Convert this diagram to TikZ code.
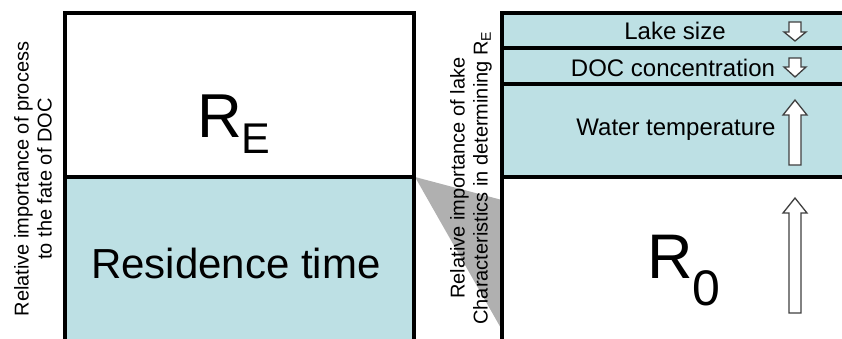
\documentclass[tikz,border=0pt]{standalone}
\usepackage{fontspec}
\setmainfont{Liberation Sans}
\definecolor{lakeblue}{RGB}{189,224,228}
\definecolor{wedgegrey}{RGB}{176,176,176}
\definecolor{arrowline}{RGB}{64,64,64}
\tikzset{
  boxline/.style={line width=3.5pt, black},
  hollowarrow/.style={fill=white, draw=arrowline, line width=1.3pt, line join=miter},
  rowtext/.style={font=\fontsize{24}{26}\selectfont, anchor=base, inner sep=0pt},
  sidetext/.style={rotate=90, align=center, font=\fontsize{20}{23}\selectfont, inner sep=0pt}
}
\begin{document}
\begin{tikzpicture}[x=1pt,y=-1pt]
\useasboundingbox (0,0) rectangle (842,338);
\clip (0,0) rectangle (842,338);
% wedge
\fill[wedgegrey] (415,177) -- (502,200) -- (502,330) -- cycle;
% left box
\fill[white] (65,13) rectangle (414,177);
\fill[lakeblue] (65,177) rectangle (414,360);
\draw[boxline] (65,360) -- (65,13) -- (414,13) -- (414,360);
\draw[boxline] (65,177) -- (414,177);
% right box
\fill[lakeblue] (502,13) rectangle (870,177);
\fill[white] (502,177) rectangle (870,360);
\draw[boxline] (502,360) -- (502,13) -- (870,13);
\draw[boxline] (502,48) -- (870,48);
\draw[boxline] (502,84) -- (870,84);
\draw[boxline] (502,177) -- (870,177);
% arrows
\draw[hollowarrow] (789,22) -- (801,22) -- (801,32) -- (806,32) -- (795,41) -- (784,32) -- (789,32) -- cycle;
\draw[hollowarrow] (789,58) -- (801,58) -- (801,67) -- (806,67) -- (795,77) -- (784,67) -- (789,67) -- cycle;
\draw[hollowarrow] (789,165) -- (801,165) -- (801,115) -- (807,115) -- (795,100) -- (783,115) -- (789,115) -- cycle;
\draw[hollowarrow] (789,313) -- (801,313) -- (801,213) -- (807,213) -- (795,198) -- (783,213) -- (789,213) -- cycle;
% texts
\node[anchor=base west, inner sep=0pt, font=\fontsize{62}{62}\selectfont] (re) at (197,137) {R\raisebox{-16pt}{\fontsize{43}{43}\selectfont E}};
\node[anchor=base, inner sep=0pt, font=\fontsize{42}{44}\selectfont] (rt) at (236,278) {Residence time};
\node[anchor=base west, inner sep=0pt, font=\fontsize{63}{63}\selectfont] (r0) at (647,278) {R\raisebox{-27pt}{\fontsize{50}{50}\selectfont 0}};
\node[rowtext] (ls) at (675,39) {Lake size};
\node[rowtext] (doc) at (673,76) {DOC concentration};
\node[rowtext] (wt) at (676,135) {Water temperature};
\node[sidetext] (lt) at (33,179) {Relative importance of process\\to the fate of DOC};
\node[sidetext] (rtx) at (471,178) {Relative importance of lake\\Characteristics in determining R\textsubscript{E}};
\end{tikzpicture}
\end{document}
